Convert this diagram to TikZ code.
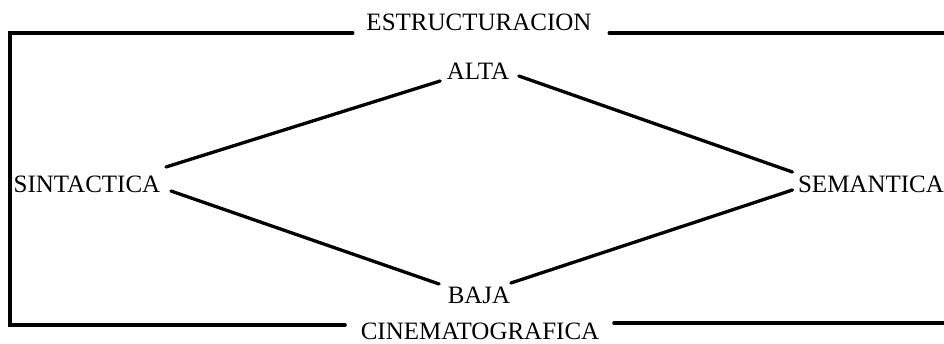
\documentclass[tikz,border=0pt]{standalone}
\usepackage{fontspec}
\setmainfont{Liberation Serif}
\begin{document}
\begin{tikzpicture}[
        x=1pt, y=-1pt,
        line width=3.3pt,
        line cap=round,
        word/.style ={inner sep=0pt, anchor=base, font=\fontsize{25}{30}\selectfont},
    ]
    \useasboundingbox (0,0) rectangle (944,343);
    \node[word] (estr) at (479,30)  {ESTRUCTURACION};
    \node[word] (cine) at (480,339) {CINEMATOGRAFICA};
    \node[word] (alta) at (478,79)  {ALTA};
    \node[word] (baja) at (479,303) {BAJA};
    \node[word] (sint) at (87,192)  {SINTACTICA};
    \node[word] (sem)  at (871,192) {SEMANTICA};

    \coordinate (tl) at (10,33);
    \coordinate (bl) at (10,325);
    \coordinate (tr) at (944,33);
    \coordinate (br) at (944,323);

    % frame
    \draw ([shift={(-12,3)}]estr.base west) -- (tl) -- (bl) -- ([shift={(-14,-14)}]cine.base west);
    \draw ([shift={(16,3)}]estr.base east) -- (tr);
    \draw ([shift={(13,-16)}]cine.base east) -- (br);

    % diamond
    \draw ([shift={(4,-25)}]sint.base east) -- ([shift={(-5,2)}]alta.base west);
    \draw ([shift={(8,-3)}]alta.base east) -- ([shift={(-4,-20)}]sem.base west);
    \draw ([shift={(9,-1)}]sint.base east) -- ([shift={(-7,-19)}]baja.base west);
    \draw ([shift={(-1,-20)}]baja.base east) -- ([shift={(-4,-2)}]sem.base west);
\end{tikzpicture}
\end{document}
